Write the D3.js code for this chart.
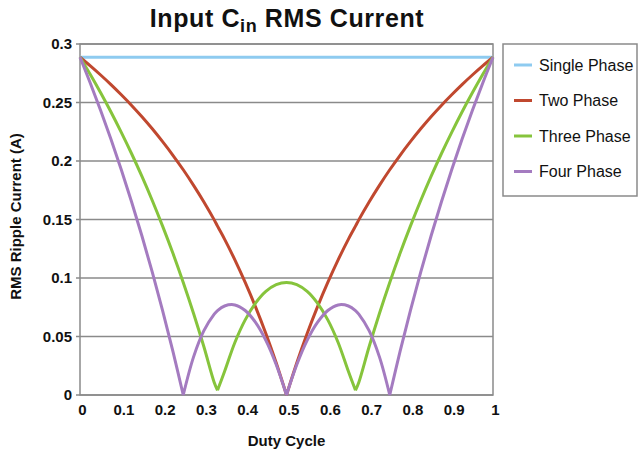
<!DOCTYPE html>
<html>
<head>
<meta charset="utf-8">
<script src="https://cdn.jsdelivr.net/npm/d3@7"></script>
<style>
body { margin: 0; background: #fff; }
text { font-family: "Liberation Sans", Arial, sans-serif; }
</style>
</head>
<body>
<div class="canvas"></div>
<script>
// values
const duty = [0, 0.025, 0.05, 0.075, 0.1, 0.125, 0.15, 0.175, 0.2, 0.225, 0.25, 0.275, 0.3, 0.325, 0.333, 0.35, 0.375, 0.4, 0.425, 0.45, 0.475, 0.5,
    0.525, 0.55, 0.575, 0.6, 0.625, 0.65, 0.667, 0.675, 0.7, 0.725, 0.75, 0.775, 0.8, 0.825, 0.85, 0.875, 0.9, 0.925, 0.95, 0.975, 1]
const singlePhase = [0.2887, 0.2887, 0.2887, 0.2887, 0.2887, 0.2887, 0.2887, 0.2887, 0.2887, 0.2887, 0.2887, 0.2887, 0.2887, 0.2887, 0.2887, 0.2887, 0.2887, 0.2887, 0.2887, 0.2887, 0.2887, 0.2887,
    0.2887, 0.2887, 0.2887, 0.2887, 0.2887, 0.2887, 0.2887, 0.2887, 0.2887, 0.2887, 0.2887, 0.2887, 0.2887, 0.2887, 0.2887, 0.2887, 0.2887, 0.2887, 0.2887, 0.2887, 0.2887]
const twoPhase = [0.2887, 0.2813, 0.2735, 0.2653, 0.2566, 0.2475, 0.2378, 0.2275, 0.2165, 0.2049, 0.1925, 0.1792, 0.165, 0.1497, 0.1443, 0.1332, 0.1155, 0.0962, 0.0753, 0.0525, 0.0275, 0,
    0.0275, 0.0525, 0.0753, 0.0962, 0.1155, 0.1332, 0.1443, 0.1497, 0.165, 0.1792, 0.1925, 0.2049, 0.2165, 0.2275, 0.2378, 0.2475, 0.2566, 0.2653, 0.2735, 0.2813, 0.2887]
const threePhase = [0.2887, 0.2739, 0.2583, 0.2419, 0.2245, 0.2062, 0.1868, 0.1662, 0.1443, 0.1211, 0.0962, 0.0697, 0.0412, 0.0107, 0.004, 0.0201, 0.0449, 0.0642, 0.0785, 0.0885, 0.0943, 0.0962,
    0.0943, 0.0885, 0.0785, 0.0642, 0.0449, 0.0201, 0.004, 0.0107, 0.0412, 0.0697, 0.0962, 0.1211, 0.1443, 0.1662, 0.1868, 0.2062, 0.2245, 0.2419, 0.2583, 0.2739, 0.2887]
const fourPhase = [0.2887, 0.2665, 0.2431, 0.2185, 0.1925, 0.165, 0.1359, 0.105, 0.0722, 0.0373, 0, 0.0326, 0.055, 0.0691, 0.0722, 0.0761, 0.077, 0.0722, 0.062, 0.0467, 0.026, 0,
    0.026, 0.0467, 0.062, 0.0722, 0.077, 0.0761, 0.0722, 0.0691, 0.055, 0.0326, 0, 0.0373, 0.0722, 0.105, 0.1359, 0.165, 0.1925, 0.2185, 0.2431, 0.2665, 0.2887]
const seriesNames = ['Single Phase', 'Two Phase', 'Three Phase', 'Four Phase']
const seriesColors = ['#8ecbf0', '#c0482f', '#86c43c', '#a47bc0']
const xTicks = [0, 0.1, 0.2, 0.3, 0.4, 0.5, 0.6, 0.7, 0.8, 0.9, 1]
const yTicks = [0, 0.05, 0.1, 0.15, 0.2, 0.25, 0.3]

const series = [singlePhase, twoPhase, threePhase, fourPhase].map((vals, i) => ({
    name: seriesNames[i],
    color: seriesColors[i],
    values: duty.map((d, j) => ({ d: d, v: vals[j] }))
}))

const margin = { top: 44, right: 146, bottom: 60, left: 80 }
const width = 639, height = 455
const graphWidth = width - margin.left - margin.right
const graphHeight = height - margin.top - margin.bottom

const svg = d3.select('.canvas')
    .append('svg')
    .attr('width', width)
    .attr('height', height)

const graph = svg.append('g')
    .attr('transform', `translate(${margin.left}, ${margin.top})`)

const x = d3.scaleLinear().domain([0, 1]).range([0, graphWidth])
const y = d3.scaleLinear().domain([0, 0.3]).range([graphHeight, 0])

// gridlines
graph.selectAll('line.grid')
    .data(yTicks)
    .enter().append('line')
    .attr('class', 'grid')
    .attr('x1', -4).attr('x2', graphWidth)
    .attr('y1', d => y(d)).attr('y2', d => y(d))
    .attr('stroke', '#8a8a8a')
    .attr('stroke-width', 1.5)

// frame
graph.append('rect')
    .attr('width', graphWidth).attr('height', graphHeight)
    .attr('fill', 'none')
    .attr('stroke', '#8a8a8a')
    .attr('stroke-width', 1.5)

// axes
const yAxis = d3.axisLeft(y).tickValues(yTicks).tickSize(0).tickPadding(8).tickFormat(d => d)
const xAxis = d3.axisBottom(x).tickValues(xTicks).tickSize(0).tickPadding(9).tickFormat(d => d)

const yAxisGroup = graph.append('g').call(yAxis)
const xAxisGroup = graph.append('g').attr('transform', `translate(0, ${graphHeight})`).call(xAxis)
;[xAxisGroup, yAxisGroup].forEach(g => {
    g.select('.domain').remove()
    g.selectAll('text')
        .attr('font-size', 15)
        .attr('font-weight', 'bold')
        .attr('fill', '#111')
        .style('font-family', '"Liberation Sans", Arial, sans-serif')
})
xAxisGroup.selectAll('text').attr('dx', 2)

// lines - split at the cusps (local minima) so they stay sharp
const line = d3.line()
    .curve(d3.curveCatmullRom.alpha(0.5))
    .x(p => x(p.d))
    .y(p => y(p.v))

const segmentPath = vals => {
    const parts = []
    let start = 0
    for (let i = 1; i < vals.length - 1; i++) {
        if (vals[i].v < vals[i - 1].v && vals[i].v < vals[i + 1].v) {
            parts.push(vals.slice(start, i + 1))
            start = i
        }
    }
    parts.push(vals.slice(start))
    return parts.map(p => line(p)).join('')
}

graph.selectAll('path.series')
    .data(series)
    .enter().append('path')
    .attr('class', 'series')
    .attr('fill', 'none')
    .attr('stroke', s => s.color)
    .attr('stroke-width', 3)
    .attr('stroke-linejoin', 'round')
    .attr('d', s => segmentPath(s.values))

// title
const title = svg.append('text')
    .attr('x', 287).attr('y', 27)
    .attr('text-anchor', 'middle')
    .attr('font-size', 25)
    .attr('font-weight', 'bold')
    .attr('letter-spacing', 0.6)
    .attr('fill', '#111')
title.append('tspan').text('Input C')
title.append('tspan').attr('font-size', 18).attr('dy', 5).text('in')
title.append('tspan').attr('dy', -5).text(' RMS Current')

// axis titles
svg.append('text')
    .attr('x', margin.left + graphWidth / 2).attr('y', 446)
    .attr('text-anchor', 'middle')
    .attr('font-size', 15).attr('font-weight', 'bold').attr('fill', '#111')
    .text('Duty Cycle')

svg.append('text')
    .attr('transform', `translate(21, ${margin.top + graphHeight / 2 - 3}) rotate(-90)`)
    .attr('text-anchor', 'middle')
    .attr('font-size', 15).attr('font-weight', 'bold').attr('fill', '#111')
    .text('RMS Ripple Current (A)')

// legend
const legend = svg.append('g').attr('transform', 'translate(503, 44)')
legend.append('rect')
    .attr('width', 134).attr('height', 152)
    .attr('fill', '#fff')
    .attr('stroke', '#8a8a8a')
    .attr('stroke-width', 1.5)

const items = legend.selectAll('g.item')
    .data(series)
    .enter().append('g')
    .attr('class', 'item')
    .attr('transform', (s, i) => `translate(0, ${21 + i * 35.5})`)

items.append('line')
    .attr('x1', 11).attr('x2', 29)
    .attr('stroke', s => s.color)
    .attr('stroke-width', 3)

items.append('text')
    .attr('x', 36).attr('dy', '0.35em')
    .attr('font-size', 16)
    .attr('fill', '#111')
    .text(s => s.name)
</script>
</body>
</html>
